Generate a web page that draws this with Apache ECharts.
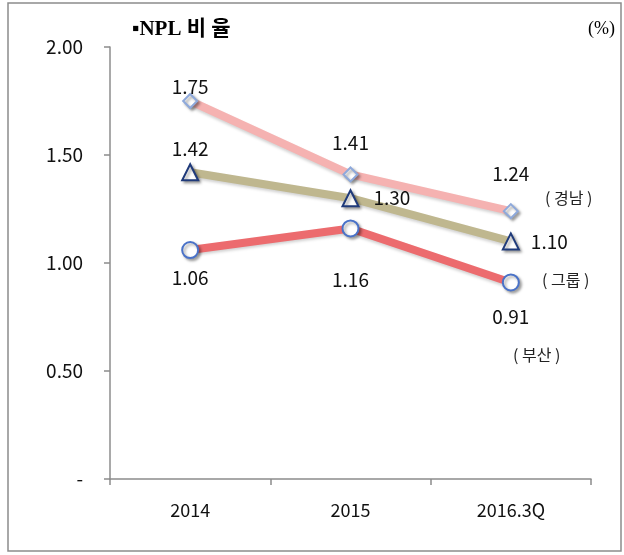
<!DOCTYPE html>
<html>
<head>
<meta charset="utf-8">
<script src="https://cdn.jsdelivr.net/npm/echarts@6/dist/echarts.min.js"></script>
<style>
  html, body { margin: 0; padding: 0; background: #fff; }
  #chart { width: 624px; height: 555px; }
</style>
</head>
<body>
<div id="chart"></div>
<script>
// 데이터
var categories = ['2014', '2015', '2016.3Q'];
var gyeongnam = [1.75, 1.41, 1.24];
var group = [1.42, 1.30, 1.10];
var busan = [1.06, 1.16, 0.91];
var yTicks = [0, 0.5, 1.0, 1.5, 2.0];

var font = '"Noto Sans CJK KR", "Noto Sans", sans-serif';

// 라벨 위치 (position, distance)
function withLabels(values, positions, distances) {
    return values.map(function (v, i) {
        return { value: v, label: { position: positions[i], distance: distances[i] } };
    });
}

var markerShadow = { shadowBlur: 3, shadowColor: 'rgba(0,0,0,0.35)', shadowOffsetX: 2, shadowOffsetY: 2 };
var lineShadow = { shadowBlur: 3, shadowColor: 'rgba(0,0,0,0.18)', shadowOffsetY: 2 };

var chart = echarts.init(document.getElementById('chart'));

var labelStyle = {
    show: true, fontSize: 19, fontFamily: font, color: '#111',
    formatter: function (p) { return p.value.toFixed(2); }
};

var option = {
    animation: false,
    grid: { left: 110, top: 47, width: 481, height: 432 },
    xAxis: {
        type: 'category',
        data: categories,
        boundaryGap: true,
        axisLine: { lineStyle: { color: '#8c8c8c', width: 1.5 } },
        axisTick: { show: true, length: 6, lineStyle: { color: '#8c8c8c', width: 1.5 } },
        axisLabel: { color: '#111', fontSize: 18, fontFamily: font, margin: 22 }
    },
    yAxis: {
        type: 'value',
        min: yTicks[0],
        max: yTicks[yTicks.length - 1],
        interval: 0.5,
        splitLine: { show: false },
        axisLine: { show: true, lineStyle: { color: '#8c8c8c', width: 1.5 } },
        axisTick: { show: true, length: 6, lineStyle: { color: '#8c8c8c', width: 1.5 } },
        axisLabel: {
            color: '#111', fontSize: 19, fontFamily: font, margin: 27,
            formatter: function (v) { return v === 0 ? '-' : v.toFixed(2); }
        }
    },
    series: [{
        name: '경남',
        type: 'line',
        data: withLabels(gyeongnam, ['top', 'top', 'top'], [-3, 14, 20]),
        symbol: 'diamond',
        symbolSize: 14,
        lineStyle: Object.assign({ color: '#f5b2b1', width: 8 }, lineShadow),
        itemStyle: Object.assign({ color: '#fff', borderColor: '#8ea9db', borderWidth: 2 }, markerShadow),
        label: labelStyle,
        z: 2
    }, {
        name: '그룹',
        type: 'line',
        data: withLabels(group, ['top', 'right', 'right'], [5, 14, 11]),
        symbol: 'triangle',
        symbolSize: 16,
        lineStyle: Object.assign({ color: '#bfb78f', width: 8 }, lineShadow),
        itemStyle: Object.assign({ color: '#fff', borderColor: '#1f3a7a', borderWidth: 2 }, markerShadow),
        label: labelStyle,
        z: 3
    }, {
        name: '부산',
        type: 'line',
        data: withLabels(busan, ['bottom', 'bottom', 'bottom'], [9, 33, 16]),
        symbol: 'circle',
        symbolSize: 16,
        lineStyle: Object.assign({ color: '#ec6b6e', width: 8 }, lineShadow),
        itemStyle: Object.assign({ color: '#fff', borderColor: '#4a72c8', borderWidth: 2 }, markerShadow),
        label: labelStyle,
        z: 4
    }],
    graphic: [{
        type: 'rect',
        shape: { x: 8, y: 3, width: 613, height: 548 },
        style: { fill: 'none', stroke: '#8c8c8c', lineWidth: 1.5 },
        silent: true
    }, {
        type: 'text',
        left: 132, top: 19,
        style: { text: '▪NPL 비 율', font: 'bold 21px "Liberation Serif", "Noto Sans CJK KR", serif', fill: '#000' }
    }, {
        type: 'text',
        left: 588, top: 20,
        style: { text: '(%)', font: '18px "Liberation Serif", serif', fill: '#000' }
    }, {
        type: 'text',
        left: 545, top: 190,
        style: { text: '( 경남 )', font: '16px ' + font, fill: '#222' }
    }, {
        type: 'text',
        left: 542, top: 272,
        style: { text: '( 그룹 )', font: '16px ' + font, fill: '#222' }
    }, {
        type: 'text',
        left: 513, top: 347,
        style: { text: '( 부산 )', font: '16px ' + font, fill: '#222' }
    }]
};

chart.setOption(option);
</script>
</body>
</html>
